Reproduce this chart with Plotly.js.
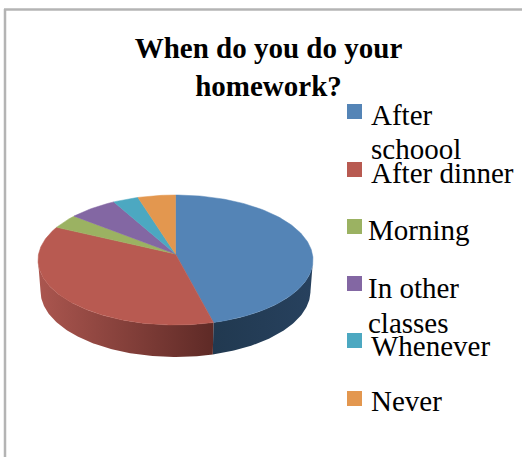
<!DOCTYPE html>
<html>
<head>
<meta charset="utf-8">
<script src="https://cdn.plot.ly/plotly-3.0.1.min.js"></script>
<style>html,body{margin:0;padding:0;background:#fff}#chart{width:522px;height:457px}</style>
</head>
<body>
<div id="chart"></div>
<script>
// Survey answers, in percent of respondents
const categories = ["After<br>schoool", "After dinner", "Morning", "In other<br>classes", "Whenever", "Never"];
const shares = [45.5, 37.8, 3.4, 5.8, 3.0, 4.4];

// Colours of the top face and of the side wall (left to right shade)
const faceColors = ["#5484b6", "#b85a51", "#9bb262", "#8367a3", "#4ca8c1", "#e3974f"];
const wallShades = [
  ["#213950", "#27415e"],
  ["#ab564f", "#5e2a26"],
  ["#7b8e4e", "#7b8e4e"],
  ["#695283", "#695283"],
  ["#3d869a", "#3d869a"],
  ["#b6793f", "#b6793f"]
];

// Legend placement, in pixels
const swatchTops = [104, 162, 219, 276, 333, 391];
const labelLefts = [370.5, 370.5, 367.5, 367.5, 370.5, 370.5];
const labelBaselines = [[124, 158], [182], [239], [297, 332], [355], [410]];

// Disc geometry, in pixels: the upper rim is slightly wider than the lower one
const upperRim = {cx: 175.5, cy: 260, a: 137.5, b: 65};
const lowerRim = {cx: 175.5, cy: 291, a: 135, b: 66};
const apex = {x: 175.5, y: 254};

const rad = d => d * Math.PI / 180;
const rim = (e, deg) => [e.cx + e.a * Math.sin(rad(deg)), e.cy - e.b * Math.cos(rad(deg))];
function arc(e, from, to) {
  const n = Math.max(2, Math.ceil(Math.abs(to - from)));
  const pts = [];
  for (let i = 0; i <= n; i++) pts.push(rim(e, from + (to - from) * i / n));
  return pts;
}

const total = shares.reduce((s, v) => s + v, 0);
const traces = [];
const faces = [];
let start = 0;
shares.forEach((v, i) => {
  const end = start + v / total * 360;
  const name = categories[i].replace("<br>", " ");

  // Side wall, only where the slice faces the viewer
  const from = Math.max(start, 90), to = Math.min(end, 270);
  if (to > from) {
    const wall = arc(upperRim, from, to).concat(arc(lowerRim, to, from));
    traces.push({
      type: "scatter", mode: "lines", name, hoverinfo: "name",
      x: wall.map(p => p[0]), y: wall.map(p => p[1]),
      fill: "toself",
      fillgradient: {type: "horizontal", colorscale: [[0, wallShades[i][0]], [1, wallShades[i][1]]]},
      line: {width: 0}
    });
  }

  const pts = [[apex.x, apex.y]].concat(arc(upperRim, start, end), [[apex.x, apex.y]]);
  faces.push({
    type: "scatter", mode: "lines", name, hoverinfo: "name",
    x: pts.map(p => p[0]), y: pts.map(p => p[1]),
    fill: "toself", fillcolor: faceColors[i],
    line: {width: 0.5, color: faceColors[i]}
  });
  start = end;
});

const serif = "Liberation Serif, Times New Roman, serif";
const annotations = [];
const shapes = [
  // Frame along the left and top edges
  {type: "line", xref: "x", yref: "y", x0: 5, x1: 5, y0: 9, y1: 457, line: {color: "#b4b4b4", width: 2.5}},
  {type: "line", xref: "x", yref: "y", x0: 4, x1: 522, y0: 9.5, y1: 9.5, line: {color: "#b4b4b4", width: 2.5}}
];
categories.forEach((c, i) => {
  shapes.push({type: "rect", xref: "x", yref: "y", x0: 347, x1: 362,
    y0: swatchTops[i], y1: swatchTops[i] + 15, fillcolor: faceColors[i], line: {width: 0}});
  c.split("<br>").forEach((line, k) => {
    annotations.push({
      xref: "x", yref: "y", x: labelLefts[i], y: labelBaselines[i][k] + 7,
      xanchor: "left", yanchor: "bottom", showarrow: false, borderpad: 0, borderwidth: 0,
      text: line, font: {family: serif, size: 29, color: "#000"}
    });
  });
});

Plotly.newPlot("chart", traces.concat(faces), {
  width: 522, height: 457,
  margin: {l: 0, r: 0, t: 0, b: 0},
  paper_bgcolor: "#fff", plot_bgcolor: "#fff",
  showlegend: false,
  title: {
    text: "When do you do your<br>homework?",
    x: 268.5 / 522, xanchor: "center", y: 1 - 58 / 457, yanchor: "top",
    font: {family: serif, size: 29, color: "#000", weight: "bold"}
  },
  xaxis: {range: [0, 522], visible: false, fixedrange: true},
  yaxis: {range: [457, 0], visible: false, fixedrange: true},
  shapes, annotations
}, {displayModeBar: false, staticPlot: true});
</script>
</body>
</html>
